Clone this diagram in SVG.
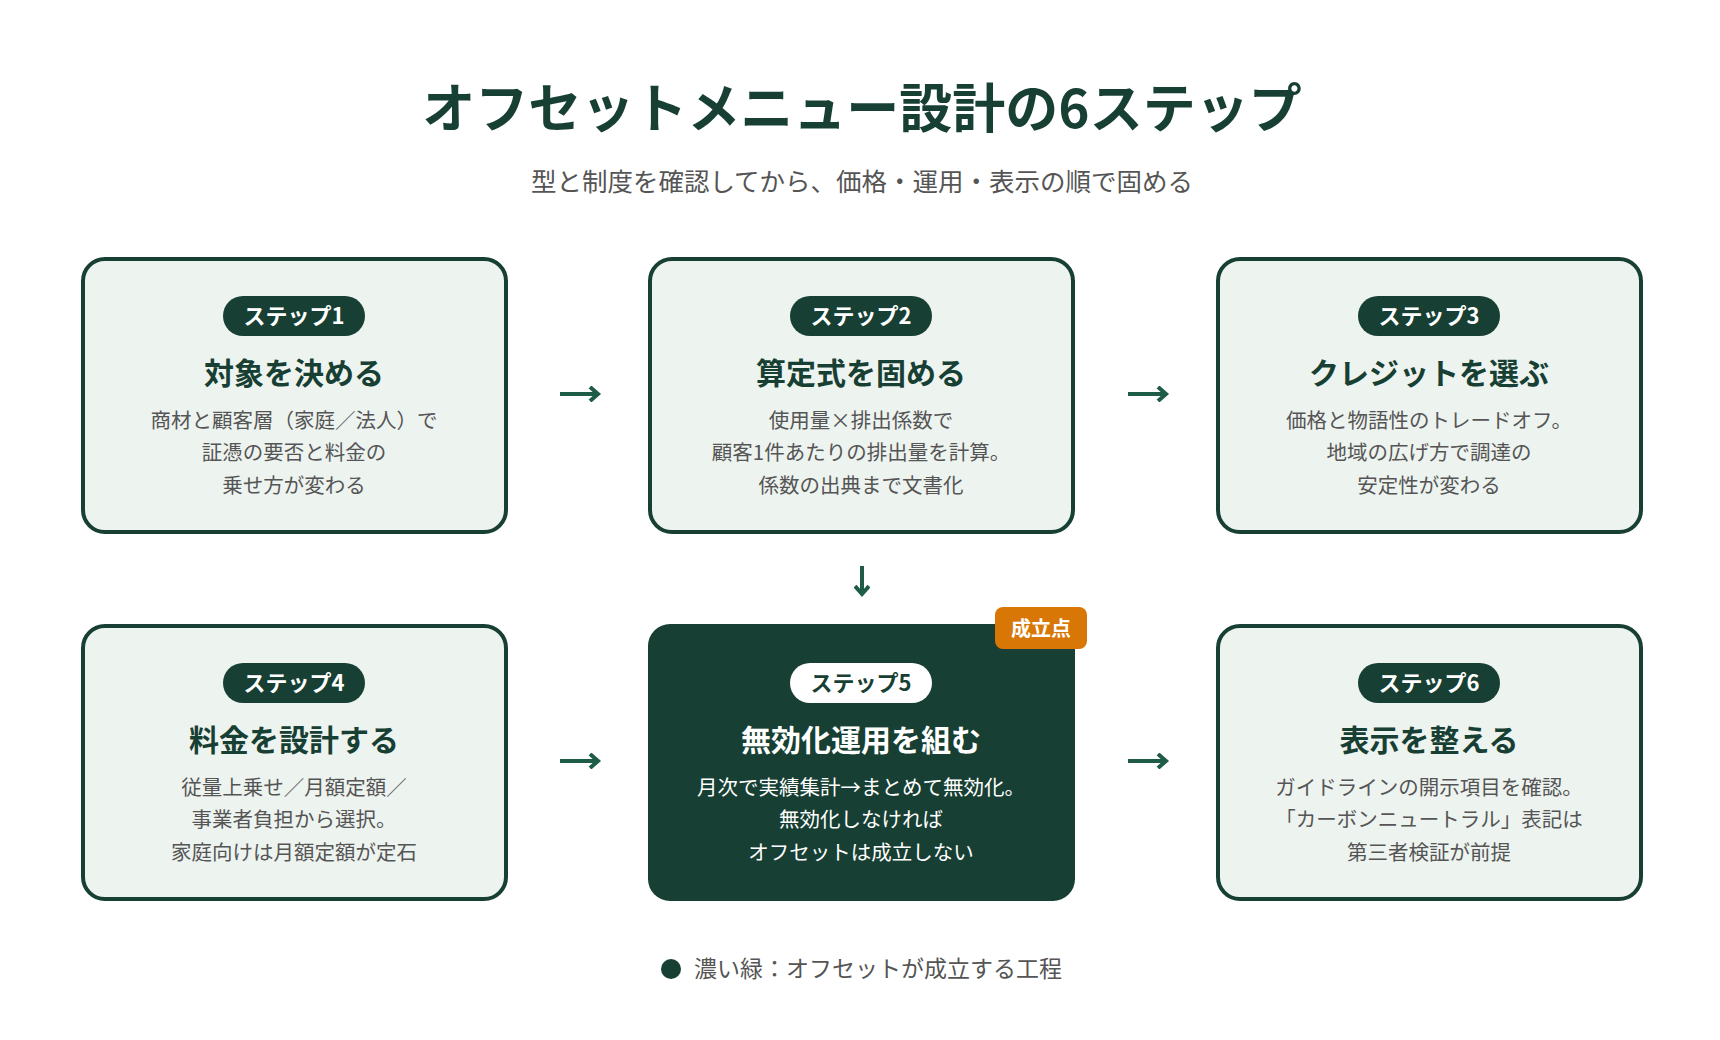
<svg xmlns="http://www.w3.org/2000/svg" width="1720" height="1040" viewBox="0 0 1720 1040">
<style>
text{font-family:"Noto Sans CJK JP","Noto Sans",sans-serif;text-anchor:middle}
.box{fill:#edf3ef;stroke:#173f33;stroke-width:4}
.dark{fill:#173f33}
.pill{fill:#173f33}
.pt{fill:#fff;font-size:22px;font-weight:700}
.h{fill:#173f33;font-size:30px;font-weight:700}
.b{fill:#555;font-size:20.5px}
.hw{fill:#fff;font-size:30px;font-weight:700}
.bw{fill:#fff;font-size:20.5px}
.arr{stroke:#1f5c48;stroke-width:4;fill:none}
</style>
<defs><marker id="ah" markerWidth="14" markerHeight="16" refX="9" refY="8" orient="auto" markerUnits="userSpaceOnUse"><path d="M2,1 L10,8 L2,15" fill="none" stroke="#1f5c48" stroke-width="4"/></marker></defs>
<rect width="1720" height="1040" fill="#fff"/>
<text x="862" y="128" style="font-size:53px;font-weight:700;fill:#173f33">オフセットメニュー設計の6ステップ</text>
<text x="862" y="191" style="font-size:25.5px;fill:#555">型と制度を確認してから、価格・運用・表示の順で固める</text>
<g id="connectors">
<line class="arr" x1="560" y1="394" x2="597" y2="394" marker-end="url(#ah)"/>
<line class="arr" x1="1128" y1="394" x2="1165" y2="394" marker-end="url(#ah)"/>
<line class="arr" x1="862" y1="566" x2="862" y2="593" marker-end="url(#ah)"/>
<line class="arr" x1="560" y1="761" x2="597" y2="761" marker-end="url(#ah)"/>
<line class="arr" x1="1128" y1="761" x2="1165" y2="761" marker-end="url(#ah)"/>
</g>
<g id="step1"><rect class="box" x="83" y="259" width="423" height="273" rx="22"/>
<rect class="pill" x="223" y="296" width="142" height="40" rx="20"/><text class="pt" x="294" y="324">ステップ1</text>
<text class="h" x="294" y="384">対象を決める</text>
<text class="b" x="294" y="428">商材と顧客層（家庭／法人）で</text><text class="b" x="294" y="460">証憑の要否と料金の</text><text class="b" x="294" y="493">乗せ方が変わる</text></g>
<g id="step2"><rect class="box" x="650" y="259" width="423" height="273" rx="22"/>
<rect class="pill" x="790" y="296" width="142" height="40" rx="20"/><text class="pt" x="861" y="324">ステップ2</text>
<text class="h" x="861" y="384">算定式を固める</text>
<text class="b" x="861" y="428">使用量×排出係数で</text><text class="b" x="861" y="460">顧客1件あたりの排出量を計算。</text><text class="b" x="861" y="493">係数の出典まで文書化</text></g>
<g id="step3"><rect class="box" x="1218" y="259" width="423" height="273" rx="22"/>
<rect class="pill" x="1358" y="296" width="142" height="40" rx="20"/><text class="pt" x="1429" y="324">ステップ3</text>
<text class="h" x="1429" y="384">クレジットを選ぶ</text>
<text class="b" x="1429" y="428">価格と物語性のトレードオフ。</text><text class="b" x="1429" y="460">地域の広げ方で調達の</text><text class="b" x="1429" y="493">安定性が変わる</text></g>
<g id="step4"><rect class="box" x="83" y="626" width="423" height="273" rx="22"/>
<rect class="pill" x="223" y="663" width="142" height="40" rx="20"/><text class="pt" x="294" y="691">ステップ4</text>
<text class="h" x="294" y="751">料金を設計する</text>
<text class="b" x="294" y="795">従量上乗せ／月額定額／</text><text class="b" x="294" y="827">事業者負担から選択。</text><text class="b" x="294" y="860">家庭向けは月額定額が定石</text></g>
<g id="step5"><rect class="dark" x="648" y="624" width="427" height="277" rx="22"/>
<rect x="790" y="663" width="142" height="40" rx="20" fill="#fff"/><text class="pt" x="861" y="691" style="fill:#173f33">ステップ5</text>
<text class="hw" x="861" y="751">無効化運用を組む</text>
<text class="bw" x="861" y="795">月次で実績集計→まとめて無効化。</text><text class="bw" x="861" y="827">無効化しなければ</text><text class="bw" x="861" y="860">オフセットは成立しない</text>
<rect x="995" y="607" width="92" height="42" rx="8" fill="#d97706"/><text x="1041" y="636" style="fill:#fff;font-size:20px;font-weight:700">成立点</text></g>
<g id="step6"><rect class="box" x="1218" y="626" width="423" height="273" rx="22"/>
<rect class="pill" x="1358" y="663" width="142" height="40" rx="20"/><text class="pt" x="1429" y="691">ステップ6</text>
<text class="h" x="1429" y="751">表示を整える</text>
<text class="b" x="1429" y="795">ガイドラインの開示項目を確認。</text><text class="b" x="1429" y="827">「カーボンニュートラル」表記は</text><text class="b" x="1429" y="860">第三者検証が前提</text></g>
<g id="legend"><circle cx="671" cy="969" r="10" fill="#173f33"/><text x="694" y="977" style="text-anchor:start;font-size:23px;fill:#555">濃い緑：オフセットが成立する工程</text></g>
</svg>
